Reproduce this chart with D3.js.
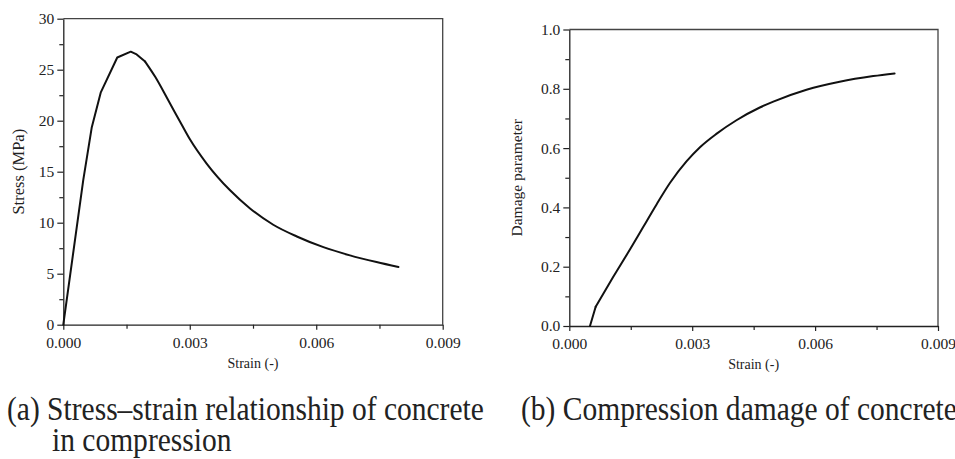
<!DOCTYPE html>
<html><head><meta charset="utf-8">
<script src="https://cdn.jsdelivr.net/npm/d3@7"></script>
<style>
html,body{margin:0;padding:0;background:#fff;}
svg{display:block;}
text{font-family:'Liberation Serif','DejaVu Serif','Noto Serif',serif;fill:#222;}
</style></head><body>
<svg id="c" width="955" height="459"></svg>
<script>
// ---- data ----
const strainA = [0, 0.000474, 0.000673, 0.000887, 0.00128, 0.0016, 0.00174, 0.00194, 0.00218, 0.00249, 0.00281, 0.0030, 0.0034, 0.00395, 0.00443, 0.00498, 0.00554, 0.00617, 0.0068, 0.00743, 0.00795];
const stressA = [0, 14.2, 19.3, 22.75, 26.2, 26.77, 26.5, 25.8, 24.3, 22.0, 19.6, 18.2, 15.8, 13.2, 11.4, 9.8, 8.65, 7.6, 6.8, 6.14, 5.65];
const strainB = [0.000505, 0.000644, 0.00107, 0.00148, 0.0018, 0.00213, 0.00246, 0.00286, 0.00319, 0.00359, 0.00408, 0.00465, 0.00498, 0.00579, 0.0066, 0.00742, 0.00794];
const damageB = [0, 0.065, 0.165, 0.258, 0.333, 0.41, 0.483, 0.555, 0.603, 0.648, 0.694, 0.737, 0.757, 0.797, 0.824, 0.843, 0.852];
const xTicks = [0, 0.003, 0.006, 0.009];
const xMinor = [0.0015, 0.0045, 0.0075];
const yTicksA = [0, 5, 10, 15, 20, 25, 30];
const yMinorA = [2.5, 7.5, 12.5, 17.5, 22.5, 27.5];
const yTicksB = [0, 0.2, 0.4, 0.6, 0.8, 1.0];
const yMinorB = [0.1, 0.3, 0.5, 0.7, 0.9];
const xLabel = "Strain (-)";
const yLabelA = "Stress (MPa)";
const yLabelB = "Damage parameter";
const captionA1 = "(a) Stress\u2013strain relationship of concrete";
const captionA2 = "in compression";
const captionB = "(b) Compression damage of concrete";

const FONT = "'Liberation Serif','DejaVu Serif','Noto Serif',serif";
const svg = d3.select("#c");
const ink = "#222";

function panel(cfg){
  const g = svg.append("g");
  const x = d3.scaleLinear().domain([0, 0.009]).range([cfg.left, cfg.right]);
  const y = d3.scaleLinear().domain(cfg.yDomain).range([cfg.bottom, cfg.top]);
  g.append("path").attr("d", `M${cfg.left},${cfg.top}H${cfg.right}V${cfg.bottom}`)
    .attr("fill","none").attr("stroke","#444").attr("stroke-width",1.3);
  g.append("g").attr("transform",`translate(0,${cfg.bottom})`)
    .call(d3.axisBottom(x).tickValues(xMinor).tickFormat("").tickSize(4))
    .call(s=>s.select(".domain").remove());
  g.append("g").attr("transform",`translate(${cfg.left},0)`)
    .call(d3.axisLeft(y).tickValues(cfg.yMinor).tickFormat("").tickSize(4))
    .call(s=>s.select(".domain").remove());
  const ax = g.append("g").attr("transform",`translate(0,${cfg.bottom})`)
    .call(d3.axisBottom(x).tickValues(xTicks).tickFormat(d3.format(".3f")).tickSize(5).tickPadding(7).tickSizeOuter(0));
  const ay = g.append("g").attr("transform",`translate(${cfg.left},0)`)
    .call(d3.axisLeft(y).tickValues(cfg.yTicks).tickFormat(cfg.yFmt).tickSize(6).tickPadding(3).tickSizeOuter(0));
  [ax, ay].forEach(a=>{
    a.attr("font-family", FONT);
    a.selectAll("line,path").attr("stroke", ink).attr("stroke-width",1.3);
    a.selectAll("text").style("font-family", FONT).attr("font-size",cfg.tickFs).attr("fill",ink);
  });
  g.selectAll("g.tick line").attr("stroke", ink).attr("stroke-width",1.2);
  const pts = cfg.xs.map((v,i)=>[v, cfg.ys[i]]);
  const lin = d3.line().x(d=>x(d[0])).y(d=>y(d[1])).curve(d3.curveLinear);
  const smo = d3.line().x(d=>x(d[0])).y(d=>y(d[1])).curve(d3.curveMonotoneX);
  g.append("path").attr("d", lin(pts.slice(0, cfg.split+1)))
    .attr("fill","none").attr("stroke","#111").attr("stroke-width",2).attr("stroke-linejoin","round").attr("stroke-linecap","round");
  g.append("path").attr("d", smo(pts.slice(cfg.split)))
    .attr("fill","none").attr("stroke","#111").attr("stroke-width",2).attr("stroke-linejoin","round").attr("stroke-linecap","round");
  g.append("text").attr("x",(cfg.left+cfg.right)/2).attr("y",cfg.xLabY)
    .attr("text-anchor","middle").attr("font-size",14).style("font-family",FONT).text(xLabel);
  g.append("text").attr("transform",`translate(${cfg.yLabX},${(cfg.top+cfg.bottom)/2}) rotate(-90)`)
    .attr("text-anchor","middle").attr("font-size",cfg.yLabFs).style("font-family",FONT).text(cfg.yLabel);
}

panel({left:63.3, right:442.7, top:18.7, bottom:324.7, yDomain:[0,30], yTicks:yTicksA, yMinor:yMinorA,
  yFmt:d3.format("d"), tickFs:15.5, xs:strainA, ys:stressA, split:7,
  xLabY:368, yLabX:24, yLabFs:16.5, yLabel:yLabelA});
panel({left:569.3, right:938, top:29.5, bottom:326, yDomain:[0,1], yTicks:yTicksB, yMinor:yMinorB,
  yFmt:d3.format(".1f"), tickFs:15.5, xs:strainB, ys:damageB, split:1,
  xLabY:369, yLabX:522, yLabFs:15.5, yLabel:yLabelB});

const capFs = 32;
const c1 = svg.append("text").attr("font-size",capFs).style("font-family",FONT).text(captionA1);
const sx = 477 / c1.node().getComputedTextLength();
const sy = 1.08;
c1.attr("transform",`translate(7,420) scale(${sx},${sy})`);
svg.append("text").attr("font-size",capFs).style("font-family",FONT).attr("transform",`translate(52,451) scale(${sx},${sy})`).text(captionA2);
svg.append("text").attr("font-size",capFs).style("font-family",FONT).attr("transform",`translate(521,420) scale(${sx},${sy})`).text(captionB);
</script>
</body></html>
